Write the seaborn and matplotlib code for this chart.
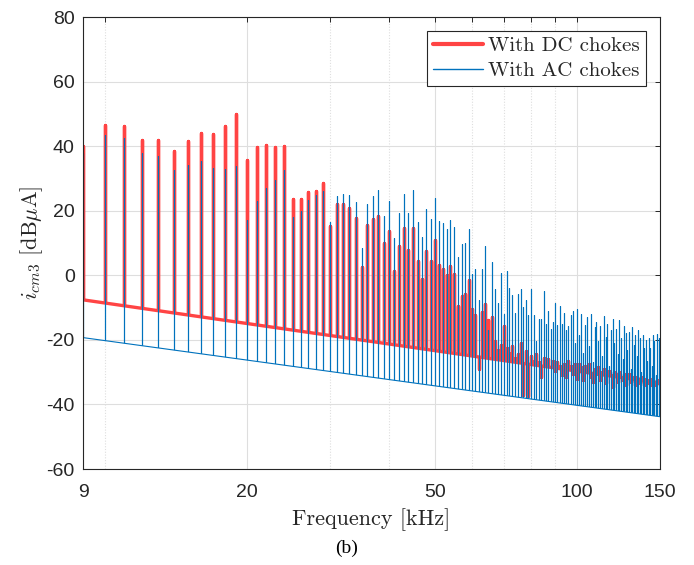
import matplotlib
matplotlib.use("Agg")
import matplotlib.pyplot as plt
from matplotlib.lines import Line2D
from matplotlib.patches import Polygon
from matplotlib.ticker import FixedLocator, FixedFormatter, NullFormatter
import pandas as pd
import seaborn as sns

# Harmonic frequencies (kHz) of the common-mode current spectrum
harmonic_khz = list(range(9, 151))

# Peak level at each harmonic, DC-side chokes (dBuA)
dc_peak_db = [
    40.2, 46.4, 46.1, 41.9, 41.8, 38.5, 41.5, 44.2, 43.9, 46.1, 50.1, 35.6,
    39.7, 40.5, 39.7, 40.2, 23.7, 23.7, 25.8, 26.0, 28.7, 15.3,
    22.1, 22.1, 20.8, 17.8, 2.6, 15.5, 17.3, 18.4, 9.9, 13.6,
    1.2, 9.1, 14.5, 7.9, 14.7, 4.3, -1.0, 7.4, 4.3, 10.8,
    3.1, 2.1, 0.0, 2.9, 0.5, -9.5, -6.4, -5.7, -1.5, -10.5,
    -12.4, -29.0, -11.3, -8.8, -14.0, -12.9, -20.5, -23.0, -21.5, -15.7,
    -22.5, -24.0, -22.0, -25.5, -24.5, -21.0, -37.0, -23.5, -37.5, -25.0,
    -26.5, -24.5, -27.0, -31.5, -25.5, -27.5, -26.0, -28.5, -26.5, -29.5,
    -27.0, -28.0, -31.0, -27.5, -31.5, -26.5, -28.0, -30.5, -27.5, -32.0,
    -27.5, -28.5, -32.5, -28.0, -29.0, -27.5, -31.5, -33.0, -29.0, -30.5,
    -28.5, -32.5, -30.0, -29.0, -33.5, -30.5, -29.5, -31.0, -34.5, -30.0,
    -30.5, -33.0, -30.0, -31.5, -32.5, -30.5, -34.0, -31.0, -30.5, -33.0,
    -31.5, -32.0, -34.0, -31.5, -32.0, -33.5, -31.5, -32.5, -34.0, -32.0,
    -32.5, -33.5, -32.0, -34.0, -32.5, -33.0, -34.0, -32.5, -33.5, -33.0,
]

# Peak level at each harmonic, AC-side chokes (dBuA)
ac_peak_db = [
    37.9, 43.5, 42.5, 37.9, 36.8, 32.5, 34.3, 35.3, 33.2, 33.0, 33.8, 17.2,
    22.9, 27.1, 29.4, 32.5, 18.1, 19.9, 23.2, 24.8, 26.0, 16.5,
    24.5, 25.3, 25.0, 22.6, 8.6, 22.2, 24.5, 26.3, 18.5, 23.0,
    11.6, 19.3, 25.1, 19.3, 26.3, 16.5, 11.9, 20.6, 17.5, 24.0,
    16.8, 16.2, 14.4, 17.0, 15.0, 5.7, 9.8, 10.0, 14.4, 0.5,
    1.8, -7.5, 2.1, 9.1, -16.8, 4.1, -4.3, -8.5, 0.8, -12.1,
    1.3, -3.8, -6.2, -11.6, -5.9, -4.3, -9.8, -7.5, -12.4, -4.1,
    -12.2, -20.3, -13.4, -13.6, -5.0, -15.2, -11.0, -16.5, -14.4, -8.5,
    -15.5, -9.6, -15.0, -11.7, -17.0, -15.7, -12.4, -11.0, -21.0, -10.3,
    -18.5, -12.0, -24.0, -15.5, -13.0, -22.0, -11.9, -27.0, -16.0, -14.5,
    -20.5, -15.7, -25.0, -12.5, -19.0, -15.0, -28.0, -17.0, -13.5, -21.0,
    -16.5, -24.5, -14.0, -19.5, -26.0, -15.7, -18.0, -23.0, -17.5, -29.0,
    -16.0, -21.5, -18.5, -25.0, -17.0, -19.3, -30.0, -18.5, -22.4, -20.0,
    -26.5, -19.3, -22.5, -28.0, -18.5, -20.5, -31.0, -18.1, -19.5, -20.5,
]

# Broadband floor between harmonics: level at both band edges
floor_khz = [9, 150]
dc_floor_db = [-7.6, -33.4]
ac_floor_db = [-19.3, -43.8]

series_labels = ["With DC chokes", "With AC chokes"]
x_ticks = [9, 20, 50, 100, 150]
x_tick_labels = ["9", "20", "50", "100", "150"]
x_minor_ticks = [10, 30, 40, 60, 70, 80, 90]
y_ticks = [-60, -40, -20, 0, 20, 40, 60, 80]

DC_COLOR = "#ff4444"
AC_COLOR = "#0072bd"
INK = "#262626"
GRID = "#dedede"

sns.set_theme(style="white")
plt.rcParams.update({
    "mathtext.fontset": "cm",
    "axes.unicode_minus": False,
    "path.simplify": False,
})

fig = plt.figure(figsize=(6.94, 5.65), dpi=100)
ax = fig.add_axes([0.1196, 0.1699, 0.8314, 0.8000])
ax.set_xscale("log")
ax.set_xlim(9, 150)
ax.set_ylim(-60, 80)


def spike_table(levels, far):
    """Vertical strokes from a far-away level to each harmonic's value."""
    rows = []
    for f, v in zip(harmonic_khz, levels):
        rows.extend([(f, far), (f, v), (f, far)])
    return pd.DataFrame(rows, columns=["freq", "level"])


def floor_region(floor_db, side):
    """Area above (side=+1) or below (side=-1) the floor line."""
    edge = 1000 * side
    verts = [(floor_khz[0], floor_db[0]), (floor_khz[1], floor_db[1]),
             (floor_khz[1], edge), (floor_khz[0], edge)]
    return Polygon(verts, closed=True, transform=ax.transData)


def draw_spectrum(levels, floor_db, color, lw):
    sns.lineplot(x=floor_khz, y=floor_db, color=color, lw=lw, ax=ax,
                 legend=False, solid_capstyle="butt")
    # upward spikes stop at the floor from above, dips stop at it from below
    for far, side in ((-1000, 1), (1000, -1)):
        n0 = len(ax.lines)
        sns.lineplot(data=spike_table(levels, far), x="freq", y="level",
                     sort=False, estimator=None, color=color, lw=lw,
                     ax=ax, legend=False)
        for ln in ax.lines[n0:]:
            ln.set_clip_path(floor_region(floor_db, side))


draw_spectrum(dc_peak_db, dc_floor_db, DC_COLOR, 2.4)
draw_spectrum(ac_peak_db, ac_floor_db, AC_COLOR, 0.8)

# axes styling
ax.set_axisbelow(True)
ax.xaxis.set_major_locator(FixedLocator(x_ticks))
ax.xaxis.set_major_formatter(FixedFormatter(x_tick_labels))
ax.xaxis.set_minor_locator(FixedLocator(x_minor_ticks))
ax.xaxis.set_minor_formatter(NullFormatter())
ax.set_yticks(y_ticks)
ax.grid(which="major", axis="both", color=GRID, lw=0.8, ls="-")
ax.grid(which="minor", axis="x", color=GRID, lw=0.8, ls=(0, (1, 1.5)))
ax.tick_params(which="both", direction="in", top=True, right=True,
               length=3.6, width=0.7, color=INK, labelcolor=INK,
               labelsize=14)
ax.tick_params(axis="x", which="major", pad=11)
ax.tick_params(axis="y", which="major", pad=6)
for lab in ax.get_xticklabels() + ax.get_yticklabels():
    lab.set_family("Liberation Sans")
for sp in ax.spines.values():
    sp.set_color(INK)
    sp.set_linewidth(0.8)

ax.set_xlabel("Frequency [kHz]", family="cmr10", fontsize=16, color=INK,
              labelpad=5)
ax.set_ylabel(r"$i_{cm3}$ [dB$\mu$A]", family="cmr10", fontsize=16,
              color=INK, labelpad=1)

handles = [Line2D([], [], color=DC_COLOR, lw=3.0),
           Line2D([], [], color=AC_COLOR, lw=1.0)]
leg = ax.legend(handles, series_labels, loc="upper right",
                prop={"family": "cmr10", "size": 15}, frameon=True,
                fancybox=False, framealpha=1, edgecolor=INK,
                borderaxespad=0.65, borderpad=0.3, handlelength=2.4,
                handletextpad=0.25, labelspacing=0.28)
leg.get_frame().set_linewidth(0.8)

fig.text(0.5, 1 - 548 / 565, "(b)", ha="center", va="center",
         family="Liberation Serif", fontsize=14, color="black")

fig.savefig("out.png", dpi=100)
